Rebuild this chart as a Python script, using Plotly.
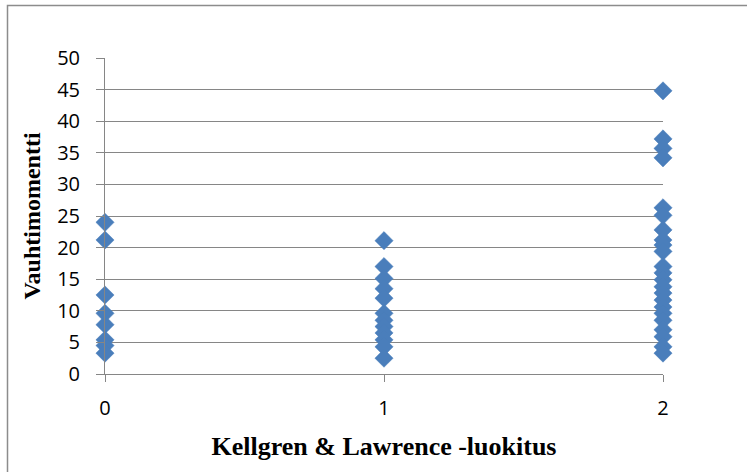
import plotly.graph_objects as go

# Data
kl_0 = [24.0, 21.2, 12.5, 9.6, 7.8, 5.4, 4.5, 3.3]
kl_1 = [21.1, 17.0, 15.1, 13.5, 12.0, 9.6, 8.5, 7.5, 6.5, 5.4, 4.3, 2.5]
kl_2 = [44.8, 37.2, 35.7, 34.2, 26.3, 25.1, 22.8, 21.2, 20.4, 19.4, 17.0, 16.0,
        14.9, 13.8, 12.8, 11.7, 10.6, 9.6, 8.5, 7.0, 5.9, 4.3, 3.3]
grades = [0, 1, 2]
y_ticks = [0, 5, 10, 15, 20, 25, 30, 35, 40, 45, 50]

xs, ys = [], []
for g, vals in zip(grades, [kl_0, kl_1, kl_2]):
    xs += [g] * len(vals)
    ys += vals

fig = go.Figure()
fig.add_trace(go.Scatter(
    x=xs, y=ys, mode="markers",
    marker=dict(symbol="diamond", size=14, color="#4A7EBB",
                line=dict(width=0.5, color="#4A7EBB")),
    cliponaxis=False, showlegend=False,
))

W, H = 747, 472
L, R, T, B = 105, 84, 58, 98
pw, ph = W - L - R, H - T - B

def px_x(p):
    return (p - L) / pw

def px_y(p):
    return 1 - (p - T) / ph

fig.update_layout(
    width=W, height=H,
    margin=dict(l=L, r=R, t=T, b=B, pad=0),
    paper_bgcolor="white", plot_bgcolor="white",
    font=dict(family="Open Sans, sans-serif", size=20, color="black"),
    xaxis=dict(
        range=[0, 2], tickvals=grades, ticktext=[str(g) for g in grades],
        showgrid=False, zeroline=False,
        showline=True, linecolor="#868686", linewidth=1,
        ticks="outside", ticklen=7, tickcolor="#868686",
        tickfont=dict(size=20), ticklabelstandoff=9,
        title=dict(text="<b>Kellgren & Lawrence -luokitus</b>",
                   font=dict(family="Liberation Serif, Times New Roman, serif", size=26),
                   standoff=16),
    ),
    yaxis=dict(
        range=[0, 50], tickvals=y_ticks,
        showgrid=True, gridcolor="#868686", gridwidth=1,
        zeroline=False,
        showline=True, linecolor="#868686", linewidth=1,
        ticks="outside", ticklen=8, tickcolor="#868686",
        tickfont=dict(size=20), ticklabelstandoff=12,
        title=dict(text="<b>Vauhtimomentti</b>",
                   font=dict(family="Liberation Serif, Times New Roman, serif", size=24),
                   standoff=9),
    ),
    shapes=[dict(type="rect", xref="paper", yref="paper",
                 x0=px_x(7.5), x1=px_x(780), y0=px_y(500), y1=px_y(5.5),
                 line=dict(color="#8C8C8C", width=1.5), fillcolor="rgba(0,0,0,0)",
                 layer="below")],
)

fig.write_html("out.html",
               config={"displayModeBar": False},
               post_script="document.body.style.margin='0';document.body.style.padding='0';")
